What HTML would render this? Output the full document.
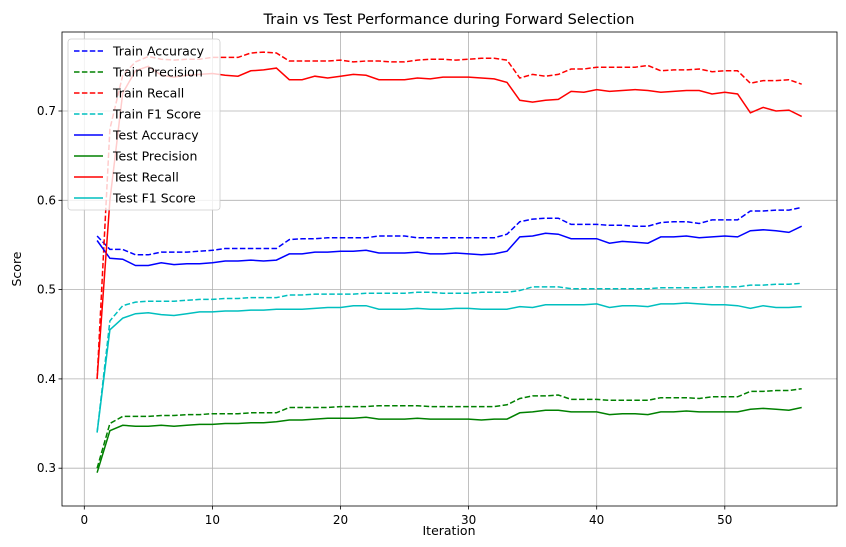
<!DOCTYPE html>
<html><head><meta charset="utf-8"><style>
body{margin:0;background:#fff;}
svg{display:block;font-family:"DejaVu Sans","Liberation Sans",sans-serif;}
</style></head><body>
<svg id="chart" width="846" height="547" viewBox="0 0 846 547" xmlns="http://www.w3.org/2000/svg"></svg>
<script>
const trainAcc=[0.560,0.545,0.545,0.539,0.539,0.542,0.542,0.542,0.543,0.544,0.546,0.546,0.546,0.546,0.546,0.556,0.557,0.557,0.558,0.558,0.558,0.558,0.560,0.560,0.560,0.558,0.558,0.558,0.558,0.558,0.558,0.558,0.562,0.576,0.579,0.580,0.580,0.573,0.573,0.573,0.572,0.572,0.571,0.571,0.575,0.576,0.576,0.574,0.578,0.578,0.578,0.588,0.588,0.589,0.589,0.592];
const trainPrec=[0.300,0.350,0.358,0.358,0.358,0.359,0.359,0.360,0.360,0.361,0.361,0.361,0.362,0.362,0.362,0.368,0.368,0.368,0.368,0.369,0.369,0.369,0.370,0.370,0.370,0.370,0.369,0.369,0.369,0.369,0.369,0.369,0.371,0.378,0.381,0.381,0.382,0.377,0.377,0.377,0.376,0.376,0.376,0.376,0.379,0.379,0.379,0.378,0.380,0.380,0.380,0.386,0.386,0.387,0.387,0.389];
const trainRec=[0.400,0.680,0.740,0.755,0.761,0.758,0.757,0.758,0.758,0.760,0.760,0.760,0.765,0.766,0.765,0.756,0.756,0.756,0.756,0.757,0.755,0.756,0.756,0.755,0.755,0.757,0.758,0.758,0.757,0.758,0.759,0.759,0.757,0.737,0.741,0.739,0.741,0.747,0.747,0.749,0.749,0.749,0.749,0.751,0.745,0.746,0.746,0.747,0.744,0.745,0.745,0.731,0.734,0.734,0.735,0.730];
const trainF1=[0.340,0.465,0.482,0.486,0.487,0.487,0.487,0.488,0.489,0.489,0.490,0.490,0.491,0.491,0.491,0.494,0.494,0.495,0.495,0.495,0.495,0.496,0.496,0.496,0.496,0.497,0.497,0.496,0.496,0.496,0.497,0.497,0.497,0.499,0.503,0.503,0.503,0.501,0.501,0.501,0.501,0.501,0.501,0.501,0.502,0.502,0.502,0.502,0.503,0.503,0.503,0.505,0.505,0.506,0.506,0.507];
const testAcc=[0.555,0.535,0.534,0.527,0.527,0.530,0.528,0.529,0.529,0.530,0.532,0.532,0.533,0.532,0.533,0.540,0.540,0.542,0.542,0.543,0.543,0.544,0.541,0.541,0.541,0.542,0.540,0.540,0.541,0.540,0.539,0.540,0.543,0.559,0.560,0.563,0.562,0.557,0.557,0.557,0.552,0.554,0.553,0.552,0.559,0.559,0.560,0.558,0.559,0.560,0.559,0.566,0.567,0.566,0.564,0.571];
const testPrec=[0.295,0.342,0.348,0.347,0.347,0.348,0.347,0.348,0.349,0.349,0.350,0.350,0.351,0.351,0.352,0.354,0.354,0.355,0.356,0.356,0.356,0.357,0.355,0.355,0.355,0.356,0.355,0.355,0.355,0.355,0.354,0.355,0.355,0.362,0.363,0.365,0.365,0.363,0.363,0.363,0.360,0.361,0.361,0.360,0.363,0.363,0.364,0.363,0.363,0.363,0.363,0.366,0.367,0.366,0.365,0.368];
const testRec=[0.400,0.600,0.720,0.745,0.750,0.740,0.738,0.740,0.741,0.742,0.740,0.739,0.745,0.746,0.748,0.735,0.735,0.739,0.737,0.739,0.741,0.740,0.735,0.735,0.735,0.737,0.736,0.738,0.738,0.738,0.737,0.736,0.732,0.712,0.710,0.712,0.713,0.722,0.721,0.724,0.722,0.723,0.724,0.723,0.721,0.722,0.723,0.723,0.719,0.721,0.719,0.698,0.704,0.700,0.701,0.694];
const testF1=[0.340,0.455,0.468,0.473,0.474,0.472,0.471,0.473,0.475,0.475,0.476,0.476,0.477,0.477,0.478,0.478,0.478,0.479,0.480,0.480,0.482,0.482,0.478,0.478,0.478,0.479,0.478,0.478,0.479,0.479,0.478,0.478,0.478,0.481,0.480,0.483,0.483,0.483,0.483,0.484,0.480,0.482,0.482,0.481,0.484,0.484,0.485,0.484,0.483,0.483,0.482,0.479,0.482,0.480,0.480,0.481];
const xTicks=[0,10,20,30,40,50];
const yTicks=[0.3,0.4,0.5,0.6,0.7];
const seriesNames=["Train Accuracy","Train Precision","Train Recall","Train F1 Score","Test Accuracy","Test Precision","Test Recall","Test F1 Score"];

const NS="http://www.w3.org/2000/svg";
const svg=document.getElementById('chart');
const L=62,R=837,T=32,B=506;
const xS=v=>84.3+(v-0)*12.81;
const yS=v=>111+(0.7-v)*893;
function mk(tag,attrs,parent){const e=document.createElementNS(NS,tag);for(const k in attrs)e.setAttribute(k,attrs[k]);(parent||svg).appendChild(e);return e;}

const grid=mk('g',{});


xTicks.forEach(t=>{const x=xS(t);
 const g=mk('line',{x1:x,x2:x,y1:T,y2:B,stroke:'#b0b0b0','stroke-width':0.8},grid);
 
 const tk=mk('line',{x1:x,x2:x,y1:B,y2:B+3.5,stroke:'#000','stroke-width':0.8});
 
 const tx=mk('text',{x:x,y:B+18,'text-anchor':'middle','font-size':12,fill:'#000'});tx.textContent=t;
 
});
yTicks.forEach(t=>{const y=yS(t);
 const g=mk('line',{x1:L,x2:R,y1:y,y2:y,stroke:'#b0b0b0','stroke-width':0.8},grid);
 
 const tk=mk('line',{x1:L-3.5,x2:L,y1:y,y2:y,stroke:'#000','stroke-width':0.8});
 
 const tx=mk('text',{x:L-6,y:y+4,'text-anchor':'end','font-size':12,fill:'#000'});tx.textContent=t.toFixed(1);
 
});

const all=[trainAcc,trainPrec,trainRec,trainF1,testAcc,testPrec,testRec,testF1];
const colors=['#0000ff','#008000','#ff0000','#00bfbf','#0000ff','#008000','#ff0000','#00bfbf'];
const slugs=['train-accuracy','train-precision','train-recall','train-f1-score','test-accuracy','test-precision','test-recall','test-f1-score'];
all.forEach((arr,i)=>{
 const d=arr.map((v,j)=>(j?'L':'M')+xS(j+1).toFixed(1)+','+yS(v).toFixed(1)).join(' ');
 const p=mk('path',{d:d,fill:'none',stroke:colors[i],'stroke-width':1.5,'stroke-dasharray':i<4?'5.5,2.4':'none'});
 
 
});

const frame=mk('rect',{x:L,y:T,width:R-L,height:B-T,fill:'none',stroke:'#000','stroke-width':0.8});



const lg=mk('g',{});


mk('rect',{x:68,y:39,width:152,height:171,rx:3,fill:'#fff','fill-opacity':0.8,stroke:'#cccccc','stroke-width':0.8},lg);
seriesNames.forEach((n,i)=>{const y=51+i*21;
 const e=mk('g',{},lg);
 
 
 mk('line',{x1:74,x2:103,y1:y,y2:y,stroke:colors[i],'stroke-width':1.5,'stroke-dasharray':i<4?'5.5,2.4':'none'},e);
 const t=mk('text',{x:113,y:y+4.5,'font-size':12.5,fill:'#000'},e);t.textContent=n;
});

const title=mk('text',{x:449,y:24,'text-anchor':'middle','font-size':14.5,fill:'#000'});
title.textContent='Train vs Test Performance during Forward Selection';

const xt=mk('text',{x:449,y:535,'text-anchor':'middle','font-size':12.5,fill:'#000'});
xt.textContent='Iteration';

const yt=mk('text',{x:21,y:269,'text-anchor':'middle','font-size':12.5,fill:'#000',transform:'rotate(-90 21 269)'});
yt.textContent='Score';

</script>
</body></html>
